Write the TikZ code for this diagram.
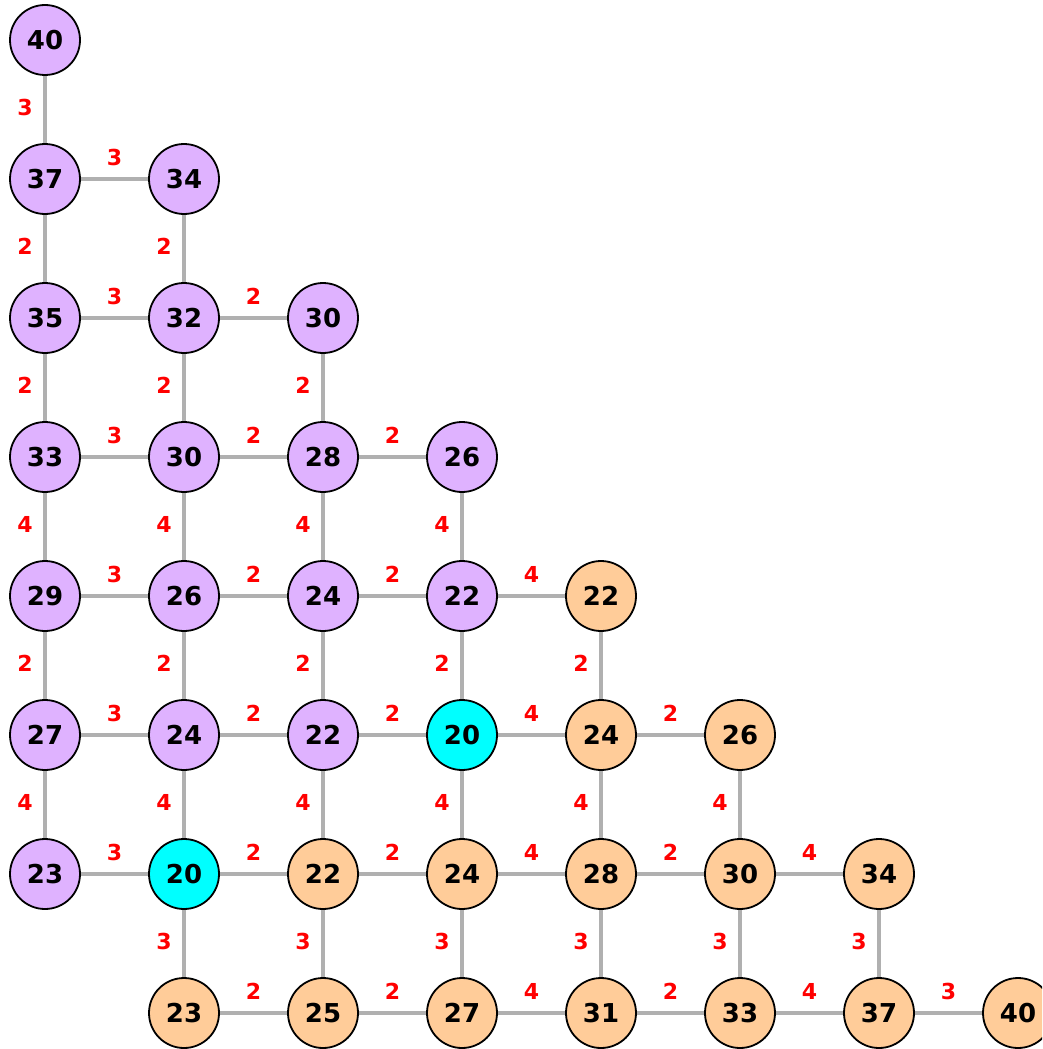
\documentclass[tikz,border=0pt]{standalone}
\usepackage{fontspec}
\setmainfont{DejaVu Sans}
\definecolor{pur}{HTML}{DFB2FF}
\definecolor{org}{HTML}{FFCC99}
\definecolor{cya}{HTML}{00FFFF}
\definecolor{edg}{HTML}{B0B0B0}
\begin{document}
\begin{tikzpicture}[x=1pt,y=-1pt,
  nd/.style={circle,draw=black,line width=1.8pt,minimum size=70pt,inner sep=0pt,font=\bfseries\fontsize{26}{26}\selectfont},
  pn/.style={nd,fill=pur},
  on/.style={nd,fill=org},
  cn/.style={nd,fill=cya},
  ed/.style={draw=edg,line width=3.4pt},
  lab/.style={text=red,font=\bfseries\fontsize{22}{22}\selectfont,inner sep=0pt},
  hl/.style={lab,midway,yshift=22pt},
  vl/.style={lab,midway,xshift=-20pt,yshift=2pt}]
\useasboundingbox (0,0) rectangle (1042,1049);
\clip (0,0) rectangle (1042,1049);
% row 0
\node[pn] (a00) at (45,40) {40};
% row 1
\node[pn] (a01) at (45,179) {37};
\node[pn] (a11) at (184,179) {34};
% row 2
\node[pn] (a02) at (45,318) {35};
\node[pn] (a12) at (184,318) {32};
\node[pn] (a22) at (323,318) {30};
% row 3
\node[pn] (a03) at (45,457) {33};
\node[pn] (a13) at (184,457) {30};
\node[pn] (a23) at (323,457) {28};
\node[pn] (a33) at (462,457) {26};
% row 4
\node[pn] (a04) at (45,596) {29};
\node[pn] (a14) at (184,596) {26};
\node[pn] (a24) at (323,596) {24};
\node[pn] (a34) at (462,596) {22};
\node[on] (a44) at (601,596) {22};
% row 5
\node[pn] (a05) at (45,735) {27};
\node[pn] (a15) at (184,735) {24};
\node[pn] (a25) at (323,735) {22};
\node[cn] (a35) at (462,735) {20};
\node[on] (a45) at (601,735) {24};
\node[on] (a55) at (740,735) {26};
% row 6
\node[pn] (a06) at (45,874) {23};
\node[cn] (a16) at (184,874) {20};
\node[on] (a26) at (323,874) {22};
\node[on] (a36) at (462,874) {24};
\node[on] (a46) at (601,874) {28};
\node[on] (a56) at (740,874) {30};
\node[on] (a66) at (879,874) {34};
% row 7
\node[on] (a17) at (184,1013) {23};
\node[on] (a27) at (323,1013) {25};
\node[on] (a37) at (462,1013) {27};
\node[on] (a47) at (601,1013) {31};
\node[on] (a57) at (740,1013) {33};
\node[on] (a67) at (879,1013) {37};
\node[on] (a77) at (1018,1013) {40};
% vertical edges
\draw[ed] (a00) -- node[vl]{3} (a01);
\draw[ed] (a01) -- node[vl]{2} (a02);
\draw[ed] (a02) -- node[vl]{2} (a03);
\draw[ed] (a03) -- node[vl]{4} (a04);
\draw[ed] (a04) -- node[vl]{2} (a05);
\draw[ed] (a05) -- node[vl]{4} (a06);
\draw[ed] (a11) -- node[vl]{2} (a12);
\draw[ed] (a12) -- node[vl]{2} (a13);
\draw[ed] (a13) -- node[vl]{4} (a14);
\draw[ed] (a14) -- node[vl]{2} (a15);
\draw[ed] (a15) -- node[vl]{4} (a16);
\draw[ed] (a16) -- node[vl]{3} (a17);
\draw[ed] (a22) -- node[vl]{2} (a23);
\draw[ed] (a23) -- node[vl]{4} (a24);
\draw[ed] (a24) -- node[vl]{2} (a25);
\draw[ed] (a25) -- node[vl]{4} (a26);
\draw[ed] (a26) -- node[vl]{3} (a27);
\draw[ed] (a33) -- node[vl]{4} (a34);
\draw[ed] (a34) -- node[vl]{2} (a35);
\draw[ed] (a35) -- node[vl]{4} (a36);
\draw[ed] (a36) -- node[vl]{3} (a37);
\draw[ed] (a44) -- node[vl]{2} (a45);
\draw[ed] (a45) -- node[vl]{4} (a46);
\draw[ed] (a46) -- node[vl]{3} (a47);
\draw[ed] (a55) -- node[vl]{4} (a56);
\draw[ed] (a56) -- node[vl]{3} (a57);
\draw[ed] (a66) -- node[vl]{3} (a67);
% horizontal edges
\draw[ed] (a01) -- node[hl]{3} (a11);
\draw[ed] (a02) -- node[hl]{3} (a12);
\draw[ed] (a12) -- node[hl]{2} (a22);
\draw[ed] (a03) -- node[hl]{3} (a13);
\draw[ed] (a13) -- node[hl]{2} (a23);
\draw[ed] (a23) -- node[hl]{2} (a33);
\draw[ed] (a04) -- node[hl]{3} (a14);
\draw[ed] (a14) -- node[hl]{2} (a24);
\draw[ed] (a24) -- node[hl]{2} (a34);
\draw[ed] (a34) -- node[hl]{4} (a44);
\draw[ed] (a05) -- node[hl]{3} (a15);
\draw[ed] (a15) -- node[hl]{2} (a25);
\draw[ed] (a25) -- node[hl]{2} (a35);
\draw[ed] (a35) -- node[hl]{4} (a45);
\draw[ed] (a45) -- node[hl]{2} (a55);
\draw[ed] (a06) -- node[hl]{3} (a16);
\draw[ed] (a16) -- node[hl]{2} (a26);
\draw[ed] (a26) -- node[hl]{2} (a36);
\draw[ed] (a36) -- node[hl]{4} (a46);
\draw[ed] (a46) -- node[hl]{2} (a56);
\draw[ed] (a56) -- node[hl]{4} (a66);
\draw[ed] (a17) -- node[hl]{2} (a27);
\draw[ed] (a27) -- node[hl]{2} (a37);
\draw[ed] (a37) -- node[hl]{4} (a47);
\draw[ed] (a47) -- node[hl]{2} (a57);
\draw[ed] (a57) -- node[hl]{4} (a67);
\draw[ed] (a67) -- node[hl]{3} (a77);
\end{tikzpicture}
\end{document}
